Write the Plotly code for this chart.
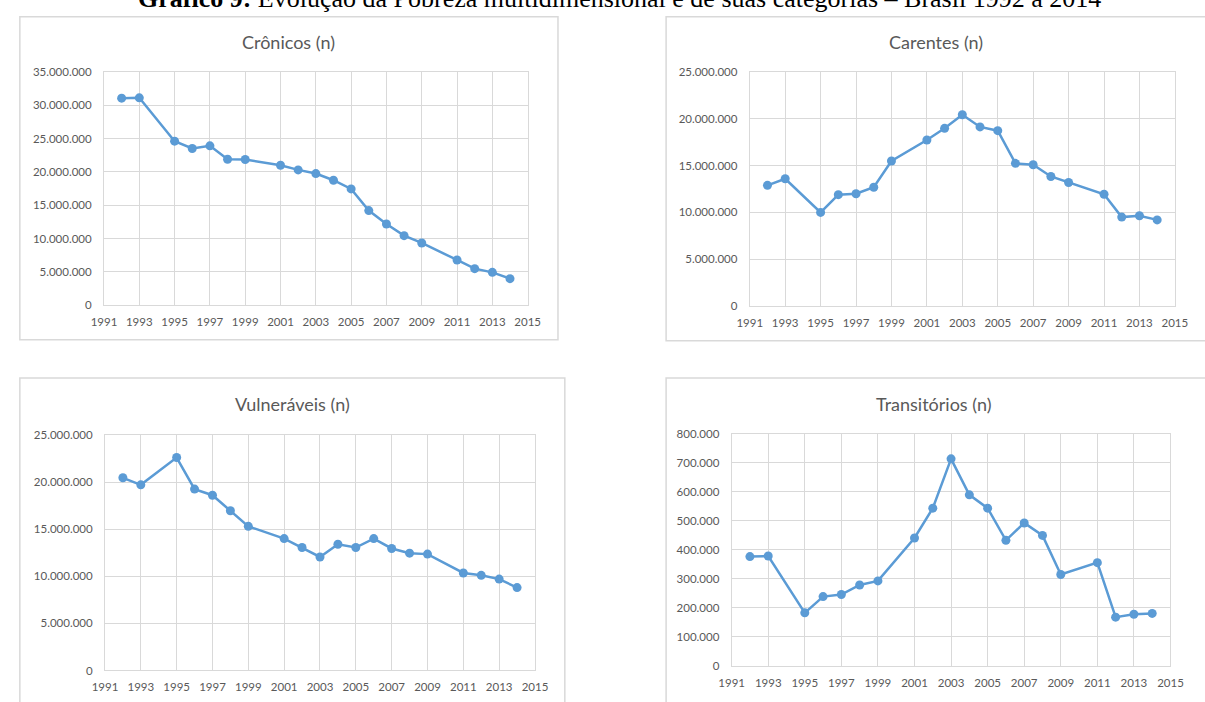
import plotly.graph_objects as go

# Survey years (no survey in 1994, 2000 and 2010)
anos = [1992, 1993, 1995, 1996, 1997, 1998, 1999, 2001, 2002, 2003, 2004,
        2005, 2006, 2007, 2008, 2009, 2011, 2012, 2013, 2014]

cronicos = [31050000, 31100000, 24600000, 23500000, 23900000, 21900000, 21850000,
            21000000, 20300000, 19750000, 18750000, 17450000, 14200000, 12200000,
            10450000, 9350000, 6800000, 5500000, 4950000, 4000000]

carentes = [12900000, 13600000, 10000000, 11900000, 12000000, 12700000, 15500000,
            17750000, 19000000, 20450000, 19150000, 18750000, 15250000, 15100000,
            13850000, 13200000, 11950000, 9500000, 9650000, 9200000]

vulneraveis = [20450000, 19700000, 22600000, 19250000, 18600000, 16950000, 15300000,
               14000000, 13050000, 12050000, 13400000, 13050000, 14000000, 12950000,
               12450000, 12350000, 10350000, 10100000, 9700000, 8800000]

transitorios = [377000, 379000, 183000, 239000, 246000, 279000, 293000,
                441000, 544000, 714000, 590000, 544000, 433000, 493000,
                450000, 315000, 356000, 168000, 178000, 181000]

titulos = ["Crônicos (n)", "Carentes (n)", "Vulneráveis (n)", "Transitórios (n)"]
series = [cronicos, carentes, vulneraveis, transitorios]
y_max = [35000000, 25000000, 25000000, 800000]
y_step = [5000000, 5000000, 5000000, 100000]

W, H = 1205, 702
AZUL = "#5B9BD5"
GRADE = "#D9D9D9"
TEXTO = "#595959"
FONTE = "Lato"


def px_x(v):
    return v / W


def px_y(v):
    return 1 - v / H


# plot areas in pixels: (left, right, top, bottom)
areas = [(93, 526, 66, 304), (753, 1187.5, 66.5, 304.5),
         (94, 533.5, 436, 676), (734.5, 1183, 435, 671.3)]
# outer chart frames in pixels: (left, right, top, bottom)
molduras = [(7, 557, 10, 339), (667.5, 1220, 10, 340),
            (7, 564, 378, 712), (667.5, 1220, 378, 712)]
# chart title centres in pixels
centros = [(282, 36), (943, 36), (285.5, 405), (940.5, 404)]

fig = go.Figure()
layout = dict(
    width=W, height=H,
    margin=dict(l=0, r=0, t=0, b=0),
    paper_bgcolor="white", plot_bgcolor="white",
    showlegend=False,
    separators=",.",
    font=dict(family=FONTE, color=TEXTO, size=11.5),
)
shapes, annotations = [], []

for i, (vals, titulo) in enumerate(zip(series, titulos)):
    k = "" if i == 0 else str(i + 1)
    fig.add_trace(go.Scatter(
        x=anos, y=vals, mode="lines+markers",
        line=dict(color=AZUL, width=2.5),
        marker=dict(color=AZUL, size=9),
        xaxis="x" + k, yaxis="y" + k,
        hoverinfo="x+y",
    ))
    l, r, t, b = areas[i]
    layout["xaxis" + k] = dict(
        domain=[px_x(l), px_x(r)], anchor="y" + k,
        range=[1991, 2015], tick0=1991, dtick=2,
        showgrid=True, gridcolor=GRADE, gridwidth=1,
        showline=True, linecolor=GRADE, linewidth=1, mirror=True,
        zeroline=False, ticks="", ticklabelstandoff=6,
        tickfont=dict(family=FONTE, size=11.5, color=TEXTO),
        fixedrange=True,
    )
    layout["yaxis" + k] = dict(
        domain=[px_y(b), px_y(t)], anchor="x" + k,
        range=[0, y_max[i]], tick0=0, dtick=y_step[i], tickformat=",d",
        showgrid=True, gridcolor=GRADE, gridwidth=1,
        showline=True, linecolor=GRADE, linewidth=1, mirror=True,
        zeroline=False, ticks="", ticklabelstandoff=9,
        tickfont=dict(family=FONTE, size=11.5, color=TEXTO),
        fixedrange=True,
    )
    fl, fr, ft, fb = molduras[i]
    shapes.append(dict(
        type="rect", xref="paper", yref="paper",
        x0=px_x(fl), x1=px_x(fr), y0=px_y(fb), y1=px_y(ft),
        line=dict(color=GRADE, width=1.5), fillcolor="rgba(0,0,0,0)", layer="below",
    ))
    cx, cy = centros[i]
    annotations.append(dict(
        text=titulo, xref="paper", yref="paper",
        x=px_x(cx), y=px_y(cy), xanchor="center", yanchor="middle",
        showarrow=False, font=dict(family=FONTE, size=18, color=TEXTO),
    ))

# page heading above the four panels
annotations.append(dict(
    text="<b>Gráfico 9:</b> Evolução da Pobreza multidimensional e de suas categorias – Brasil 1992 a 2014",
    xref="paper", yref="paper", x=px_x(620), y=px_y(-9),
    xanchor="center", yanchor="middle", showarrow=False,
    font=dict(family="Liberation Serif", size=26, color="black"),
))

layout["shapes"] = shapes
layout["annotations"] = annotations
fig.update_layout(**layout)
fig.write_html("out.html")
